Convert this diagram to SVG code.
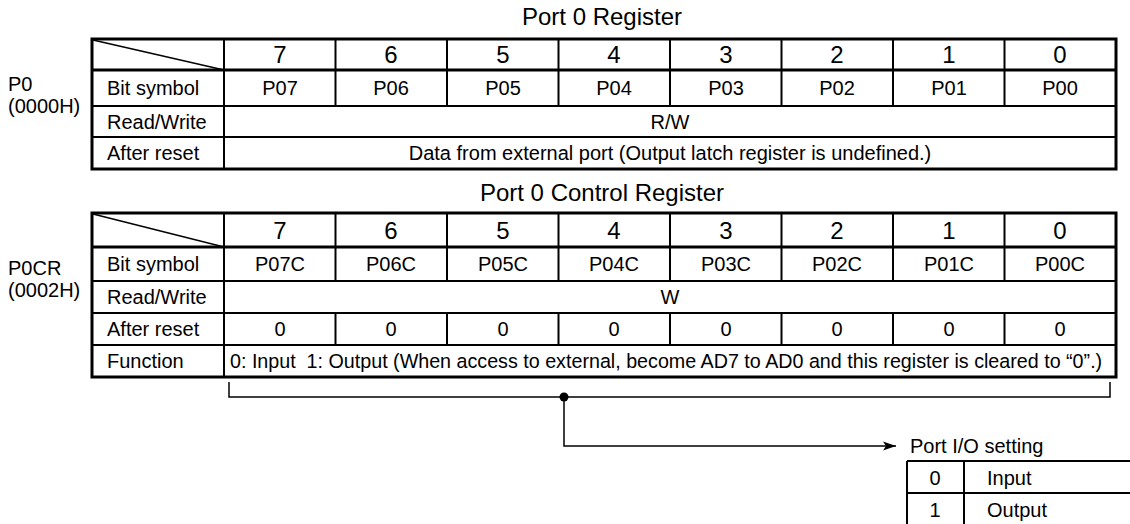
<svg xmlns="http://www.w3.org/2000/svg" width="1130" height="524" viewBox="0 0 1130 524">
  <style>
    text { font-family: "Liberation Sans", Arial, sans-serif; fill: #000; font-size: 20px; }
    .title { font-size: 24px; text-anchor: middle; }
    .hd { font-size: 24px; text-anchor: middle; }
    .c { text-anchor: middle; }
    .fn { font-size: 19.7px; }
    .outer { fill: none; stroke: #000; stroke-width: 3; }
    .thick { stroke: #000; stroke-width: 3; }
    .thin { stroke: #000; stroke-width: 2; }
    .diag { stroke: #000; stroke-width: 1.5; }
    .wire { fill: none; stroke: #000; stroke-width: 1.5; }
  </style>
  <defs>
    <marker id="arrow" markerWidth="14" markerHeight="12" refX="13" refY="6" orient="auto" markerUnits="userSpaceOnUse">
      <path d="M0,1.5 L13,6 L0,10.5 L3,6 Z" fill="#000"/>
    </marker>
  </defs>

  <rect width="1130" height="524" fill="#fff"/>

  <!-- Port 0 register (P0, 0000H) -->
  <g id="p0-register">
    <text class="title" x="602" y="25">Port 0 Register</text>
    <text x="8" y="91">P0</text>
    <text x="8" y="113">(0000H)</text>
    <!-- grid -->
    <line class="thin" x1="224" y1="39" x2="224" y2="169"/>
    <line class="thin" x1="335.5" y1="39" x2="335.5" y2="106"/>
    <line class="thin" x1="447" y1="39" x2="447" y2="106"/>
    <line class="thin" x1="558.5" y1="39" x2="558.5" y2="106"/>
    <line class="thin" x1="670" y1="39" x2="670" y2="106"/>
    <line class="thin" x1="781.5" y1="39" x2="781.5" y2="106"/>
    <line class="thin" x1="893" y1="39" x2="893" y2="106"/>
    <line class="thin" x1="1004.5" y1="39" x2="1004.5" y2="106"/>
    <line class="thick" x1="92" y1="70" x2="1116" y2="70"/>
    <line class="thin" x1="92" y1="106" x2="1116" y2="106"/>
    <line class="thin" x1="92" y1="137" x2="1116" y2="137"/>
    <line class="diag" x1="93" y1="40" x2="224" y2="70"/>
    <rect class="outer" x="92" y="39" width="1024" height="130"/>
    <!-- bit numbers -->
    <text class="hd" x="280" y="63">7</text>
    <text class="hd" x="391" y="63">6</text>
    <text class="hd" x="503" y="63">5</text>
    <text class="hd" x="614" y="63">4</text>
    <text class="hd" x="726" y="63">3</text>
    <text class="hd" x="837" y="63">2</text>
    <text class="hd" x="949" y="63">1</text>
    <text class="hd" x="1060" y="63">0</text>
    <!-- rows -->
    <text x="107" y="95">Bit symbol</text>
    <text class="c" x="280" y="95">P07</text>
    <text class="c" x="391" y="95">P06</text>
    <text class="c" x="503" y="95">P05</text>
    <text class="c" x="614" y="95">P04</text>
    <text class="c" x="726" y="95">P03</text>
    <text class="c" x="837" y="95">P02</text>
    <text class="c" x="949" y="95">P01</text>
    <text class="c" x="1060" y="95">P00</text>
    <text x="107" y="129">Read/Write</text>
    <text class="c" x="670" y="129">R/W</text>
    <text x="107" y="160">After reset</text>
    <text class="c" x="670" y="160">Data from external port (Output latch register is undefined.)</text>
  </g>

  <!-- Port 0 control register (P0CR, 0002H) -->
  <g id="p0cr-register">
    <text class="title" x="602" y="201">Port 0 Control Register</text>
    <text x="8" y="275">P0CR</text>
    <text x="8" y="297">(0002H)</text>
    <!-- grid -->
    <line class="thin" x1="224" y1="213" x2="224" y2="377"/>
    <line class="thin" x1="335.5" y1="213" x2="335.5" y2="281"/>
    <line class="thin" x1="447" y1="213" x2="447" y2="281"/>
    <line class="thin" x1="558.5" y1="213" x2="558.5" y2="281"/>
    <line class="thin" x1="670" y1="213" x2="670" y2="281"/>
    <line class="thin" x1="781.5" y1="213" x2="781.5" y2="281"/>
    <line class="thin" x1="893" y1="213" x2="893" y2="281"/>
    <line class="thin" x1="1004.5" y1="213" x2="1004.5" y2="281"/>
    <line class="thin" x1="335.5" y1="313" x2="335.5" y2="345"/>
    <line class="thin" x1="447" y1="313" x2="447" y2="345"/>
    <line class="thin" x1="558.5" y1="313" x2="558.5" y2="345"/>
    <line class="thin" x1="670" y1="313" x2="670" y2="345"/>
    <line class="thin" x1="781.5" y1="313" x2="781.5" y2="345"/>
    <line class="thin" x1="893" y1="313" x2="893" y2="345"/>
    <line class="thin" x1="1004.5" y1="313" x2="1004.5" y2="345"/>
    <line class="thick" x1="92" y1="247" x2="1116" y2="247"/>
    <line class="thin" x1="92" y1="281" x2="1116" y2="281"/>
    <line class="thin" x1="92" y1="313" x2="1116" y2="313"/>
    <line class="thin" x1="92" y1="345" x2="1116" y2="345"/>
    <line class="diag" x1="93" y1="214" x2="224" y2="247"/>
    <rect class="outer" x="92" y="213" width="1024" height="164"/>
    <!-- bit numbers -->
    <text class="hd" x="280" y="239">7</text>
    <text class="hd" x="391" y="239">6</text>
    <text class="hd" x="503" y="239">5</text>
    <text class="hd" x="614" y="239">4</text>
    <text class="hd" x="726" y="239">3</text>
    <text class="hd" x="837" y="239">2</text>
    <text class="hd" x="949" y="239">1</text>
    <text class="hd" x="1060" y="239">0</text>
    <!-- rows -->
    <text x="107" y="271">Bit symbol</text>
    <text class="c" x="280" y="271">P07C</text>
    <text class="c" x="391" y="271">P06C</text>
    <text class="c" x="503" y="271">P05C</text>
    <text class="c" x="614" y="271">P04C</text>
    <text class="c" x="726" y="271">P03C</text>
    <text class="c" x="837" y="271">P02C</text>
    <text class="c" x="949" y="271">P01C</text>
    <text class="c" x="1060" y="271">P00C</text>
    <text x="107" y="304">Read/Write</text>
    <text class="c" x="670" y="304">W</text>
    <text x="107" y="336">After reset</text>
    <text class="c" x="280" y="336">0</text>
    <text class="c" x="391" y="336">0</text>
    <text class="c" x="503" y="336">0</text>
    <text class="c" x="614" y="336">0</text>
    <text class="c" x="726" y="336">0</text>
    <text class="c" x="837" y="336">0</text>
    <text class="c" x="949" y="336">0</text>
    <text class="c" x="1060" y="336">0</text>
    <text x="107" y="368">Function</text>
    <text class="fn" x="230" y="368" xml:space="preserve">0: Input  1: Output (When access to external, become AD7 to AD0 and this register is cleared to “0”.)</text>
  </g>

  <!-- Port I/O setting legend -->
  <g id="io-setting">
    <text x="910" y="453">Port I/O setting</text>
    <line class="thin" x1="907" y1="461" x2="1130" y2="461"/>
    <line class="thin" x1="907" y1="493" x2="1130" y2="493"/>
    <line class="thin" x1="907" y1="461" x2="907" y2="524"/>
    <line class="thin" x1="964" y1="461" x2="964" y2="524"/>
    <text class="c" x="935" y="485">0</text>
    <text x="987" y="485">Input</text>
    <text class="c" x="935" y="517">1</text>
    <text x="987" y="517">Output</text>
  </g>

  <!-- bracket over the function bits and the lead to the legend -->
  <g id="connectors">
    <path class="wire" d="M229,382 V397 H1110 V382"/>
    <circle cx="564" cy="397" r="4.5" fill="#000"/>
    <path class="wire" d="M564,397 V446 H896" marker-end="url(#arrow)"/>
  </g>
</svg>
